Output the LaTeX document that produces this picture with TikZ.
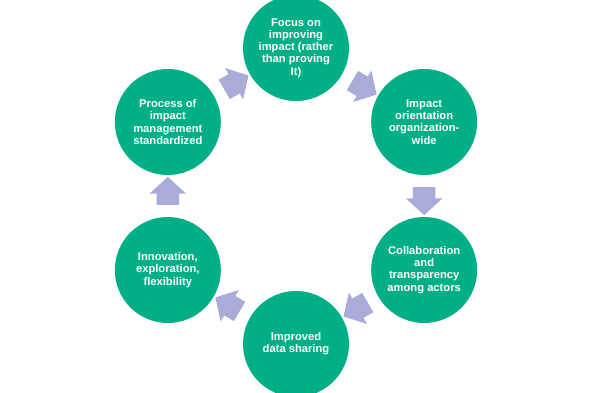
\documentclass[tikz,border=0pt]{standalone}
\usepackage{fontspec}
\setmainfont{Liberation Sans}
\usepackage{tikz}
\usetikzlibrary{calc,shapes.arrows}
\definecolor{CGreen}{HTML}{00AF86}
\definecolor{CLilac}{HTML}{A9ABD9}

\begin{document}
\begin{tikzpicture}[x=1pt, y=1pt,
  every node/.style={font=\bfseries\fontsize{11.2}{12.2}\selectfont, text=white},
  stage/.style={circle, fill=CGreen, minimum size=106pt, inner sep=0pt, align=center},
  flow/.style={single arrow, fill=CLilac, minimum height=28pt, inner xsep=0pt,
               inner ysep=11pt, single arrow head extend=7pt, single arrow tip angle=95}]
\useasboundingbox (-296,-196) rectangle (296,196);
\node[stage] (foc) at (90:148)  {Focus on\\improving\\impact (rather\\than proving\\It)};
\node[stage] (ori) at (30:148)  {Impact\\orientation\\organization-\\wide};
\node[stage] (col) at (-30:148) {Collaboration\\and\\transparency\\among actors};
\node[stage] (dat) at (-90:148) {Improved\\data sharing};
\node[stage] (inn) at (-150:148){Innovation,\\exploration,\\flexibility};
\node[stage] (pro) at (150:148) {Process of\\impact\\management\\standardized};
\foreach \a/\b/\r in {foc/ori/-30, ori/col/-90, col/dat/-150, dat/inn/150, inn/pro/90, pro/foc/30}
  {\node[flow, rotate=\r] (\a-\b) at ($(\a)!0.5!(\b)$) {};}
\end{tikzpicture}
\end{document}
